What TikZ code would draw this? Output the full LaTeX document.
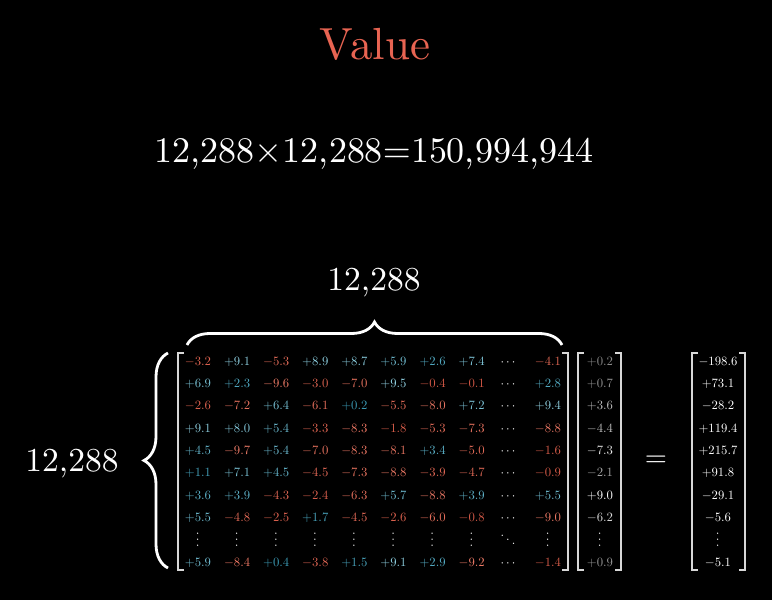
\documentclass[tikz,border=0pt]{standalone}
\usepackage{graphicx}
\usetikzlibrary{decorations.pathreplacing}
\definecolor{bhi}{RGB}{150,212,228}
\definecolor{blo}{RGB}{35,140,170}
\definecolor{rhi}{RGB}{240,125,105}
\definecolor{rlo}{RGB}{205,78,60}
\definecolor{titlered}{RGB}{232,100,82}
\definecolor{brk}{RGB}{215,215,215}
\def\minussign{-}
\newcommand\ns[1]{\scalebox{1.27}{#1}}
\newcommand\myddots{\hbox{\raise6.5pt\hbox{.}\kern1.6pt\raise3.7pt\hbox{.}\kern1.6pt\raise0.9pt\hbox{.}}}
\newcommand\matrow[2]{%
  \foreach \s/\m [count=\ci] in {#2} {
    \pgfmathsetmacro\xx{\ci<9 ? 198+(\ci-1)*39.1 : 548}
    \pgfmathsetmacro\yy{239-(#1-1)*22.33-4.1}
    \pgfmathsetmacro\pct{int(20+8*\m)}
    \ifx\s\minussign\def\mcol{rhi!\pct!rlo}\else\def\mcol{bhi!\pct!blo}\fi
    \node[num, text=\mcol] (m-#1-\ci) at (\xx,\yy) {\ns{$\s\m$}};
  }%
  \pgfmathsetmacro\yy{239-(#1-1)*22.33-4.1}
  \node[num, text=white] (h-#1) at (508,\yy) {\ns{$\cdots$}};
}
\begin{document}
\begin{tikzpicture}[x=1pt,y=1pt,
  num/.style={anchor=base, inner sep=0pt},
  dotsv/.style={anchor=center, inner sep=0pt, rotate=90, text=white},
  bigtxt/.style={anchor=base, inner sep=0pt, text=white},
  bracket/.style={draw=brk, line width=1.4pt},
  bigbrace/.style={draw=white, line width=2.8pt, decorate},
]
\fill[black] (0,0) rectangle (772,600);
\useasboundingbox (0,0) rectangle (772,600);

% titles
\node[anchor=base, inner sep=0pt, text=titlered] (title) at (375,540) {\scalebox{4.5}{Value}};
\node[bigtxt] (eq) at (374,437) {\scalebox{3.6}{12,288$\times$12,288$=$150,994,944}};
\node[bigtxt] (toplab) at (374,309) {\scalebox{3.35}{12,288}};
\node[bigtxt] (leftlab) at (72,128) {\scalebox{3.35}{12,288}};

% braces
\draw[bigbrace, decoration={brace, amplitude=24pt}] (168,32) -- (168,247);
\draw[bigbrace, decoration={brace, amplitude=23pt}] (187,255) -- (562,255);

% matrix brackets
\draw[bracket] (184,247) -- (178,247) -- (178,30) -- (184,30);
\draw[bracket] (562,247) -- (568,247) -- (568,30) -- (562,30);

% matrix entries
\matrow{1}{-/3.2,+/9.1,-/5.3,+/8.9,+/8.7,+/5.9,+/2.6,+/7.4,-/4.1}
\matrow{2}{+/6.9,+/2.3,-/9.6,-/3.0,-/7.0,+/9.5,-/0.4,-/0.1,+/2.8}
\matrow{3}{-/2.6,-/7.2,+/6.4,-/6.1,+/0.2,-/5.5,-/8.0,+/7.2,+/9.4}
\matrow{4}{+/9.1,+/8.0,+/5.4,-/3.3,-/8.3,-/1.8,-/5.3,-/7.3,-/8.8}
\matrow{5}{+/4.5,-/9.7,+/5.4,-/7.0,-/8.3,-/8.1,+/3.4,-/5.0,-/1.6}
\matrow{6}{+/1.1,+/7.1,+/4.5,-/4.5,-/7.3,-/8.8,-/3.9,-/4.7,-/0.9}
\matrow{7}{+/3.6,+/3.9,-/4.3,-/2.4,-/6.3,+/5.7,-/8.8,+/3.9,+/5.5}
\matrow{8}{+/5.5,-/4.8,-/2.5,+/1.7,-/4.5,-/2.6,-/6.0,-/0.8,-/9.0}
\matrow{10}{+/5.9,-/8.4,+/0.4,-/3.8,+/1.5,+/9.1,+/2.9,-/9.2,-/1.4}
% row of vertical dots
\foreach \xx [count=\ci] in {198,237.1,276.2,315.3,354.4,393.5,432.6,471.7,548}
  \node[dotsv] (v-\ci) at (\xx,60.3) {\ns{$\cdots$}};
\node[anchor=base, inner sep=0pt, text=white] (dd) at (508,54.8) {\ns{\myddots}};

% vector
\draw[bracket] (584,247) -- (578,247) -- (578,30) -- (584,30);
\draw[bracket] (615,247) -- (621,247) -- (621,30) -- (615,30);
\foreach \s/\m/\r in {+/0.2/1,+/0.7/2,+/3.6/3,-/4.4/4,-/7.3/5,-/2.1/6,+/9.0/7,-/6.2/8,+/0.9/10} {
  \pgfmathsetmacro\yy{239-(\r-1)*22.33-4.1}
  \pgfmathsetmacro\pct{int(55+5*\m)}
  \node[num, text=white!\pct!black] (x-\r) at (600,\yy) {\ns{$\s\m$}};
}
\node[dotsv] (x-9) at (600,60.3) {\ns{$\cdots$}};

% equals
\node[inner sep=0pt, text=white] (equals) at (656,139) {\scalebox{2.85}{$=$}};

% result
\draw[bracket] (698,247) -- (692,247) -- (692,30) -- (698,30);
\draw[bracket] (739,247) -- (745,247) -- (745,30) -- (739,30);
\foreach \s/\m/\r in {-/198.6/1,+/73.1/2,-/28.2/3,+/119.4/4,+/215.7/5,+/91.8/6,-/29.1/7,-/5.6/8,-/5.1/10} {
  \pgfmathsetmacro\yy{239-(\r-1)*22.33-4.1}
  \node[num, text=white] (y-\r) at (718,\yy) {\ns{$\s\m$}};
}
\node[dotsv] (y-9) at (718,60.3) {\ns{$\cdots$}};
\end{tikzpicture}
\end{document}
